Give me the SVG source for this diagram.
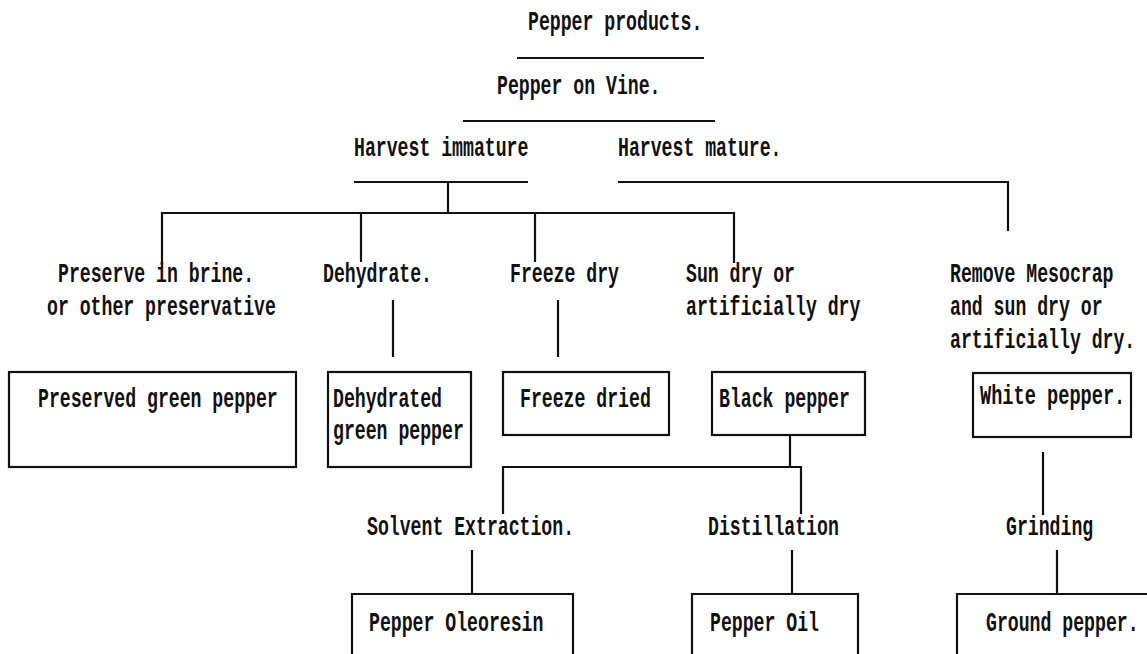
<svg xmlns="http://www.w3.org/2000/svg" width="1147" height="654" viewBox="0 0 1147 654">
<style>
text{font-family:"Liberation Mono","DejaVu Sans Mono",monospace;font-weight:bold;font-size:27px;fill:#111;}
.ln{stroke:#111;stroke-width:2.2;fill:none;}
.box{stroke:#111;stroke-width:2.2;fill:none;}
</style>
<rect width="1147" height="654" fill="#fff"/>
<g id="connectors" class="ln">
<path d="M517 58H704"/>
<path d="M463 121H715"/>
<path d="M354 182H528"/>
<path d="M618 182H1008V231"/>
<path d="M448 182V213"/>
<path d="M162 268V213H734V263"/>
<path d="M361 213V262"/>
<path d="M535 213V262"/>
<path d="M393 300V357"/>
<path d="M558 300V357"/>
<path d="M790 435V467"/>
<path d="M503 514V467H801V514"/>
<path d="M1043 452V515"/>
<path d="M472 550V594"/>
<path d="M792 550V594"/>
<path d="M1057 550V594"/>
</g>
<g id="title"><text transform="translate(528 30) scale(.673 1)">Pepper products.</text></g>
<g id="vine"><text transform="translate(497 94) scale(.673 1)">Pepper on Vine.</text></g>
<g id="immature"><text transform="translate(354 156) scale(.673 1)">Harvest immature</text></g>
<g id="mature"><text transform="translate(618 156) scale(.673 1)">Harvest mature.</text></g>
<g id="brine">
<text transform="translate(58 282) scale(.673 1)">Preserve in brine.</text>
<text transform="translate(47 315) scale(.673 1)">or other preservative</text>
</g>
<g id="dehydrate"><text transform="translate(323 282) scale(.673 1)">Dehydrate.</text></g>
<g id="freezedry"><text transform="translate(510 282) scale(.673 1)">Freeze dry</text></g>
<g id="sundry">
<text transform="translate(686 282) scale(.673 1)">Sun dry or</text>
<text transform="translate(686 315) scale(.673 1)">artificially dry</text>
</g>
<g id="remove">
<text transform="translate(950 282) scale(.673 1)">Remove Mesocrap</text>
<text transform="translate(950 315) scale(.673 1)">and sun dry or</text>
<text transform="translate(950 348) scale(.673 1)">artificially dry.</text>
</g>
<g id="preserved">
<rect class="box" x="9" y="372" width="287" height="95"/>
<text transform="translate(38 407) scale(.673 1)">Preserved green pepper</text>
</g>
<g id="dehydrated">
<rect class="box" x="328" y="372" width="143" height="95"/>
<text transform="translate(333 407) scale(.673 1)">Dehydrated</text>
<text transform="translate(333 439) scale(.673 1)">green pepper</text>
</g>
<g id="freezedried">
<rect class="box" x="503" y="372" width="166" height="63"/>
<text transform="translate(520 407) scale(.673 1)">Freeze dried</text>
</g>
<g id="black">
<rect class="box" x="712" y="372" width="153" height="63"/>
<text transform="translate(719 407) scale(.673 1)">Black pepper</text>
</g>
<g id="white">
<rect class="box" x="973" y="373" width="158" height="64"/>
<text transform="translate(980 404) scale(.69 1)">White pepper.</text>
</g>
<g id="solvent"><text transform="translate(367 535) scale(.673 1)">Solvent Extraction.</text></g>
<g id="distillation"><text transform="translate(708 535) scale(.673 1)">Distillation</text></g>
<g id="grinding"><text transform="translate(1006 535) scale(.673 1)">Grinding</text></g>
<g id="oleoresin">
<path class="box" d="M352 660V594H573V660"/>
<text transform="translate(369 631) scale(.673 1)">Pepper Oleoresin</text>
</g>
<g id="oil">
<path class="box" d="M692 660V594H858V660"/>
<text transform="translate(710 631) scale(.673 1)">Pepper Oil</text>
</g>
<g id="ground">
<path class="box" d="M957 660V594H1150"/>
<text transform="translate(986 631) scale(.673 1)">Ground pepper.</text>
</g>
</svg>
